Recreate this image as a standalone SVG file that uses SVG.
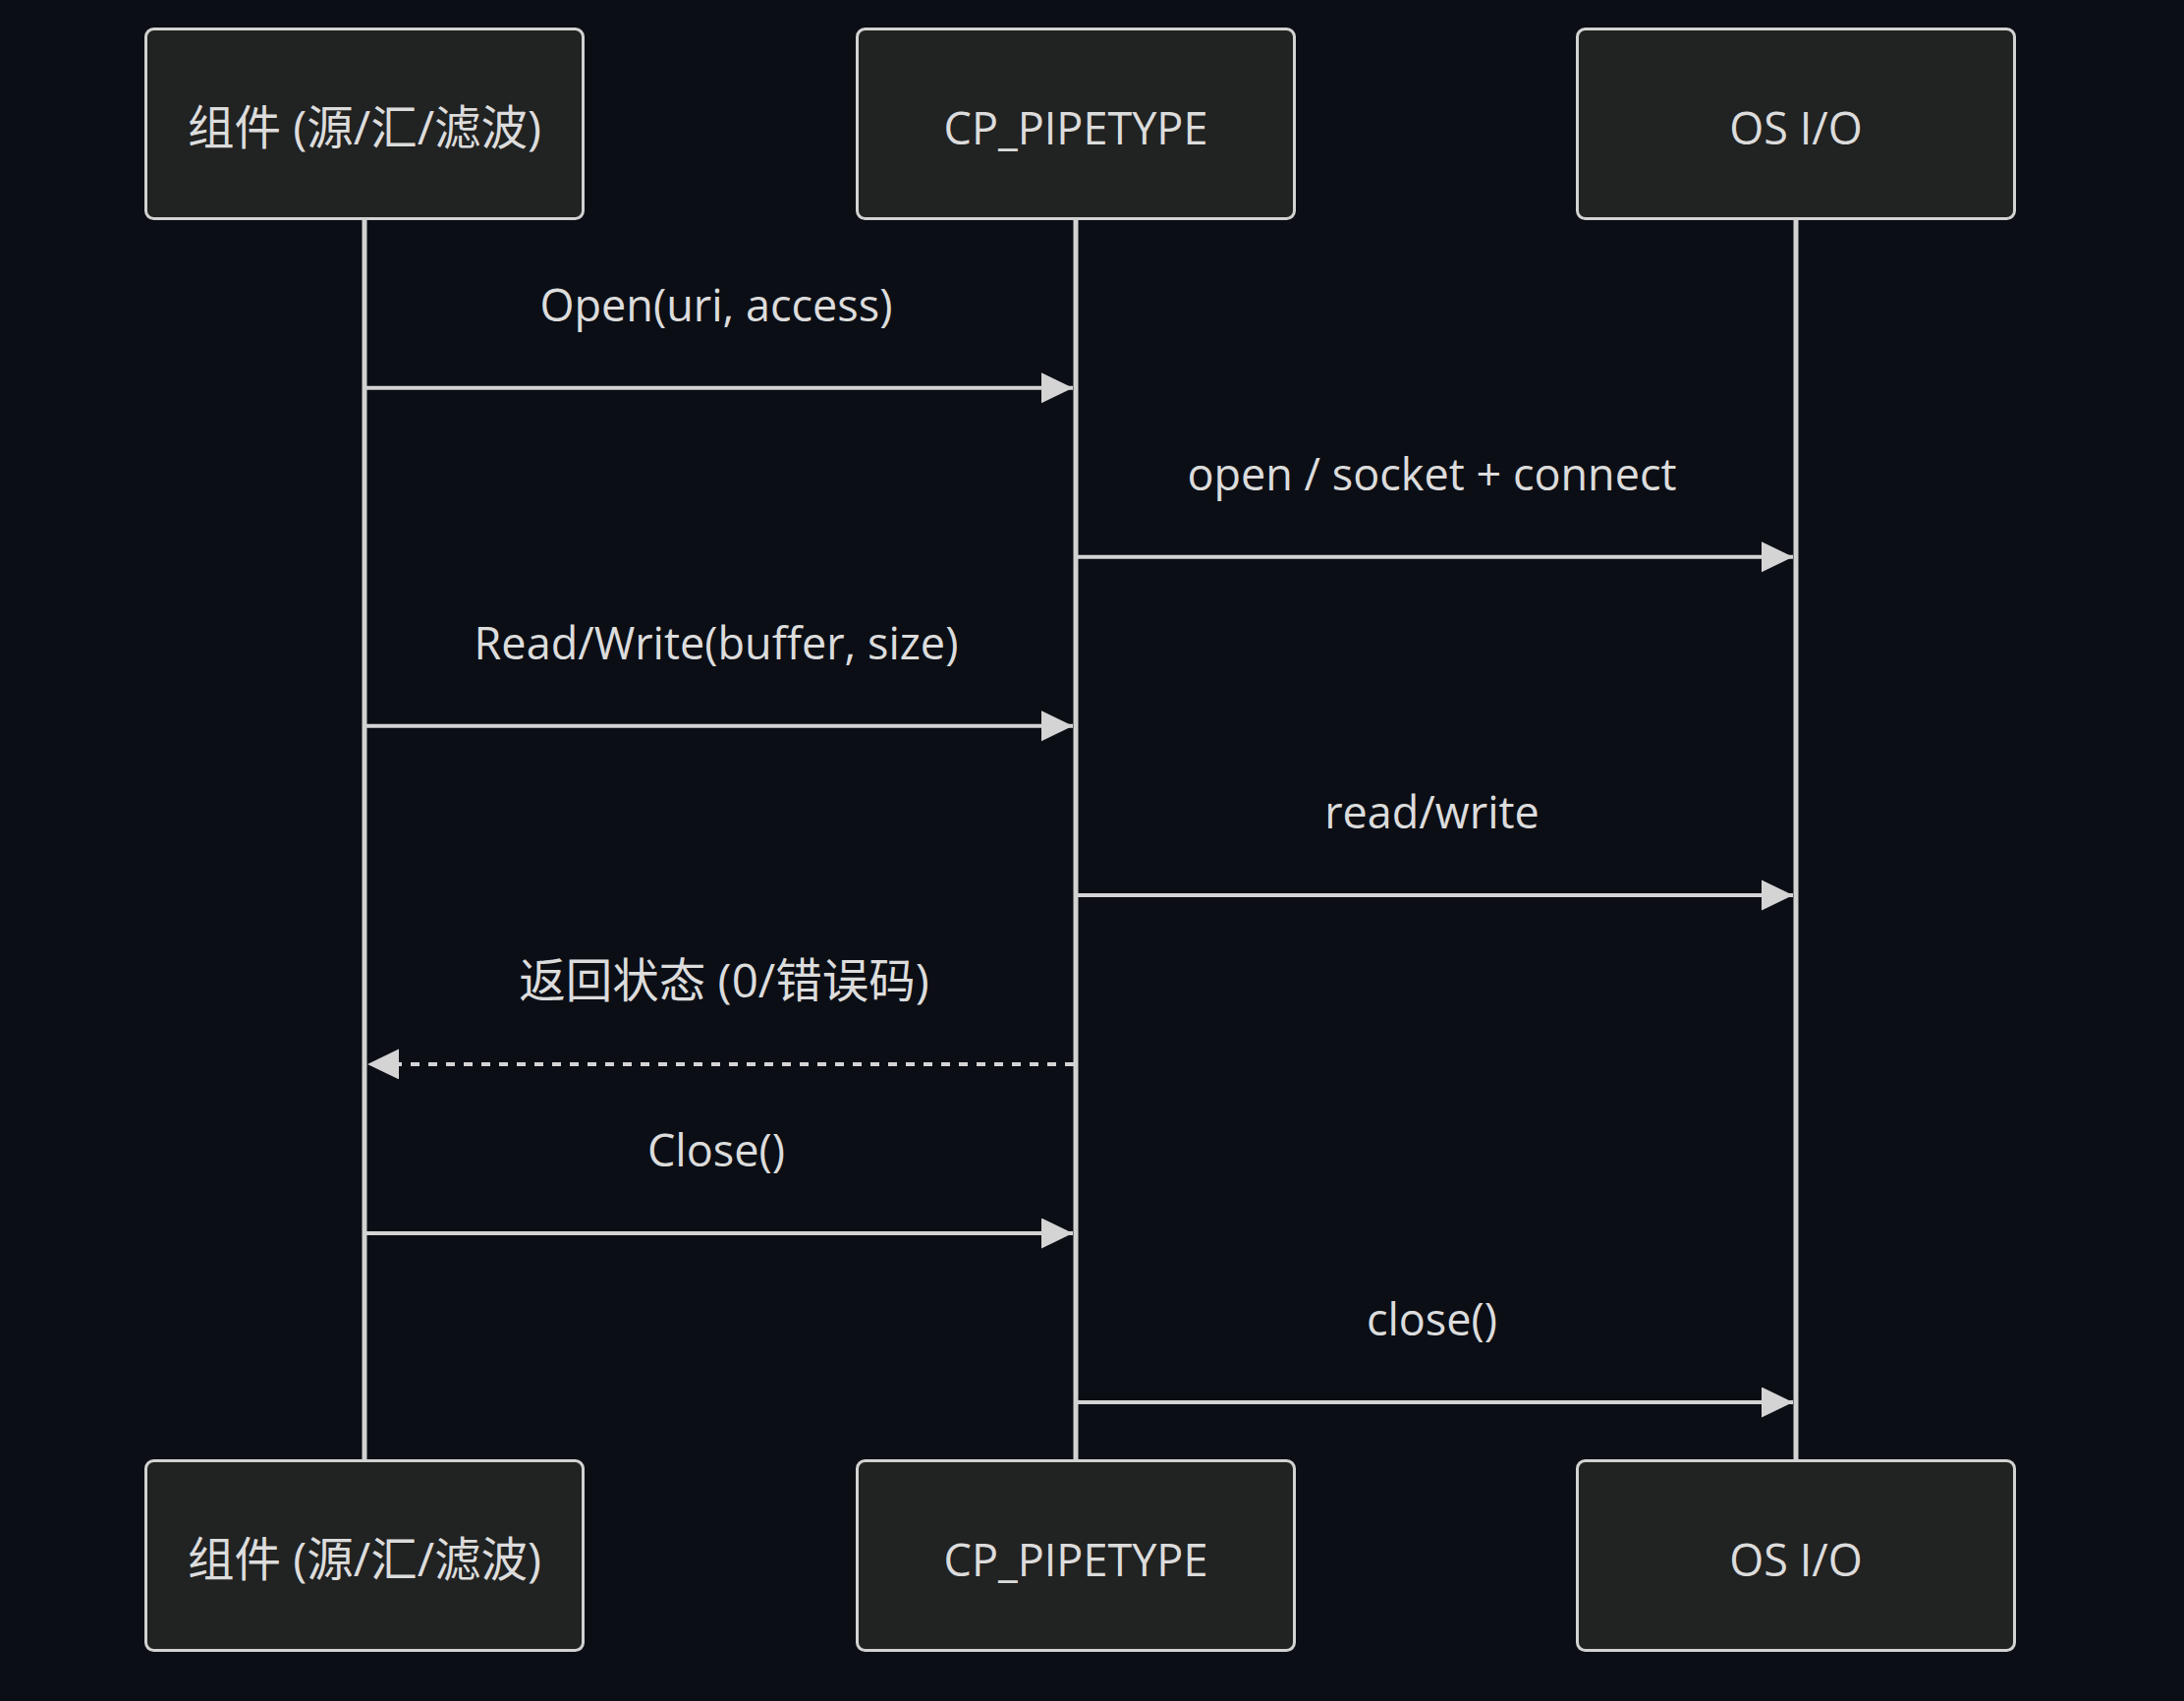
<svg xmlns="http://www.w3.org/2000/svg" width="2223" height="1731" viewBox="0 0 2223 1731">
<style>
.bg{fill:#0b0e15}
.actor{fill:#212222;stroke:#d2d2d2;stroke-width:3}
.life{stroke:#d2d2d2;stroke-width:5}
.t{font-family:"Open Sans","Noto Sans CJK SC",sans-serif;font-size:45px;fill:#dcdcdc;text-anchor:middle}
.cjk{font-size:47.5px}
.msg{stroke:#d4d4d4;stroke-width:4;fill:none}
.dash{stroke-dasharray:9 9}
</style>
<defs>
<marker id="ah" markerUnits="userSpaceOnUse" markerWidth="33" markerHeight="32" refX="32" refY="15.5" orient="auto" viewBox="0 0 33 32">
<path d="M0,0 L32,15.5 L0,31 Z" fill="#d4d4d4"/>
</marker>
</defs>
<rect class="bg" x="0" y="0" width="2223" height="1731"/>
<g id="lifelines">
<line class="life" x1="371" y1="222" x2="371" y2="1487"/>
<line class="life" x1="1095" y1="222" x2="1095" y2="1487"/>
<line class="life" x1="1828" y1="222" x2="1828" y2="1487"/>
</g>
<g id="actor-comp-top"><rect class="actor" x="148.5" y="29.5" width="445" height="193" rx="8"/><text class="t cjk" x="371" y="147">组件 (源/汇/滤波)</text></g>
<g id="actor-pipe-top"><rect class="actor" x="872.5" y="29.5" width="445" height="193" rx="8"/><text class="t" x="1095" y="147">CP_PIPETYPE</text></g>
<g id="actor-os-top"><rect class="actor" x="1605.5" y="29.5" width="445" height="193" rx="8"/><text class="t" x="1828" y="147">OS I/O</text></g>
<g id="actor-comp-bottom"><rect class="actor" x="148.5" y="1486.5" width="445" height="193" rx="8"/><text class="t cjk" x="371" y="1604">组件 (源/汇/滤波)</text></g>
<g id="actor-pipe-bottom"><rect class="actor" x="872.5" y="1486.5" width="445" height="193" rx="8"/><text class="t" x="1095" y="1604">CP_PIPETYPE</text></g>
<g id="actor-os-bottom"><rect class="actor" x="1605.5" y="1486.5" width="445" height="193" rx="8"/><text class="t" x="1828" y="1604">OS I/O</text></g>
<g id="connectors">
<text class="t" x="729" y="326.7">Open(uri, access)</text>
<line class="msg" x1="373" y1="394.7" x2="1092" y2="394.7" marker-end="url(#ah)"/>
<text class="t" x="1457.5" y="498.8">open / socket + connect</text>
<line class="msg" x1="1097" y1="566.8" x2="1825" y2="566.8" marker-end="url(#ah)"/>
<text class="t" x="729" y="670.8">Read/Write(buffer, size)</text>
<line class="msg" x1="373" y1="738.8" x2="1092" y2="738.8" marker-end="url(#ah)"/>
<text class="t" x="1457.5" y="842.9">read/write</text>
<line class="msg" x1="1097" y1="910.9" x2="1825" y2="910.9" marker-end="url(#ah)"/>
<text class="t cjk" x="737" y="1014.9">返回状态 (0/错误码)</text>
<line class="msg dash" x1="1093" y1="1082.9" x2="374" y2="1082.9" marker-end="url(#ah)"/>
<text class="t" x="729" y="1187">Close()</text>
<line class="msg" x1="373" y1="1255" x2="1092" y2="1255" marker-end="url(#ah)"/>
<text class="t" x="1457.5" y="1359">close()</text>
<line class="msg" x1="1097" y1="1427" x2="1825" y2="1427" marker-end="url(#ah)"/>
</g>
</svg>
